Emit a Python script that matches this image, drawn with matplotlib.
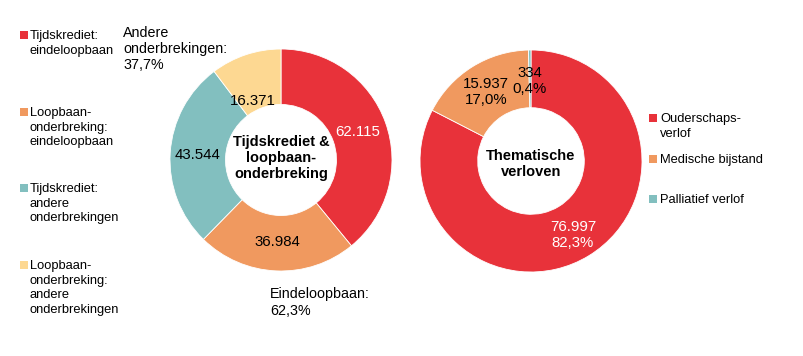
import matplotlib
matplotlib.use("Agg")
import matplotlib.pyplot as plt

plt.rcParams['font.family'] = ['Liberation Sans', 'DejaVu Sans']

# ---- data ----
left_labels = ["Tijdskrediet:\neindeloopbaan",
               "Loopbaan-\nonderbreking:\neindeloopbaan",
               "Tijdskrediet:\nandere\nonderbrekingen",
               "Loopbaan-\nonderbreking:\nandere\nonderbrekingen"]
left_values = [62115, 36984, 43544, 16371]
left_value_text = ["62.115", "36.984", "43.544", "16.371"]

right_labels = ["Ouderschaps-\nverlof", "Medische bijstand", "Palliatief verlof"]
right_values = [76997, 15937, 334]
right_value_text = ["76.997\n82,3%", "15.937\n17,0%", "334\n0,4%"]

left_colors = ["#E8323A", "#F0995F", "#82BFBF", "#FDD892"]
right_colors = ["#E8323A", "#F0995F", "#82BFBF"]

W, H = 804, 356
fig = plt.figure(figsize=(W / 100, H / 100), dpi=100)
ax = fig.add_axes([0, 0, 1, 1])

def Y(y):
    return H - y

R = 111
ax.pie(left_values, colors=left_colors, startangle=90, counterclock=False,
       center=(281, Y(160)), radius=R,
       wedgeprops=dict(width=R * 0.5, edgecolor="white", linewidth=0.6))
ax.pie(right_values, colors=right_colors, startangle=90, counterclock=False,
       center=(531, Y(161)), radius=R,
       wedgeprops=dict(width=R * 0.52, edgecolor="white", linewidth=0.6))

ax.set_xlim(0, W)
ax.set_ylim(0, H)
ax.set_axis_off()

# value labels left donut
lpos = [(358, 132), (277, 242), (198, 155), (253, 101)]
lcol = ["white", "black", "black", "black"]
for (x, y), t, c in zip(lpos, left_value_text, lcol):
    ax.text(x, Y(y), t, ha="center", va="center", fontsize=10.8, color=c)

# value labels right donut
rpos = [(573, 235), (486, 92), (530, 81)]
rcol = ["white", "black", "black"]
for (x, y), t, c in zip(rpos, right_value_text, rcol):
    ax.text(x, Y(y), t, ha="center", va="center", fontsize=10.8, color=c,
            linespacing=1.15)

# centre titles
ax.text(281, Y(158), "Tijdskrediet &\nloopbaan-\nonderbreking", ha="center",
        va="center", fontsize=10.5, fontweight="bold", linespacing=1.2)
ax.text(531, Y(164), "Thematische\nverloven", ha="center", va="center",
        fontsize=10.5, fontweight="bold", linespacing=1.2)

# annotations
ax.text(123, Y(26), "Andere\nonderbrekingen:\n37,7%", ha="left", va="top",
        fontsize=10.3, linespacing=1.2)
ax.text(270, Y(287), "Eindeloopbaan:\n62,3%", ha="left", va="top",
        fontsize=10.3, linespacing=1.25)

# left legend
ly = [35, 112, 188, 265]
for y, lab, c in zip(ly, left_labels, left_colors):
    ax.scatter([24], [Y(y)], marker="s", s=36, color=c, linewidths=0)
    ax.text(30, Y(y - 5), lab, ha="left", va="top", fontsize=9.3,
            linespacing=1.3)

# right legend
ry = [118, 159, 199]
for y, lab, c in zip(ry, right_labels, right_colors):
    ax.scatter([653], [Y(y)], marker="s", s=36, color=c, linewidths=0)
    ax.text(660, Y(y - 5), lab, ha="left", va="top", fontsize=9.3,
            linespacing=1.3)

fig.savefig("out.png", dpi=100)
